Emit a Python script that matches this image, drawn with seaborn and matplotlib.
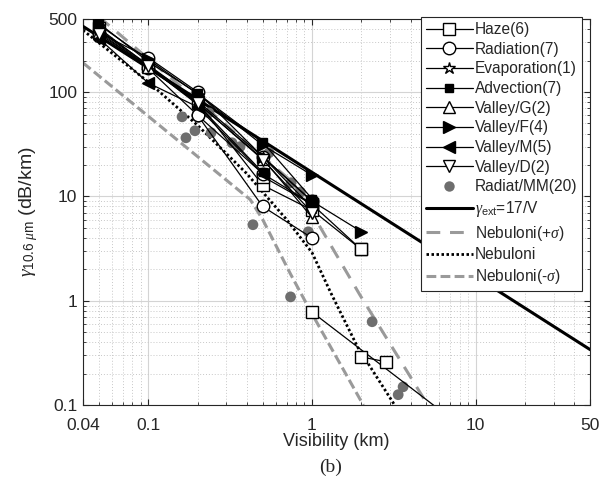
import numpy as np
import pandas as pd
import seaborn as sns
import matplotlib.pyplot as plt
from matplotlib.ticker import NullFormatter, FixedLocator, LogLocator

sns.set_style('ticks')
plt.rcParams['font.family'] = ['Liberation Sans', 'DejaVu Sans']
plt.rcParams['mathtext.fontset'] = 'custom'
plt.rcParams['mathtext.rm'] = 'Liberation Sans'
plt.rcParams['mathtext.it'] = 'Liberation Serif:italic'

# ---- measured series (visibility km, attenuation dB/km) ----
haze_a_x = [0.05, 0.1, 0.2, 0.5, 1, 2]
haze_a_y = [410, 178, 80, 12.8, 7.4, 3.1]
haze_b_x = [0.5, 1, 2]
haze_b_y = [15.5, 8.4, 3.1]
haze_c_x = [1, 10]
haze_c_y = [0.78, 0.049]
haze_d_x = [2, 2.85]
haze_d_y = [0.29, 0.26]

rad_a_x = [0.05, 0.1, 0.2, 0.5, 1]
rad_a_y = [370, 213, 100, 24, 9]
rad_b_x = [0.05, 0.1, 0.2, 0.5]
rad_b_y = [345, 168, 60, 16.5]
rad_c_x = [0.2, 0.5, 1]
rad_c_y = [60, 8, 4]

evap_x = [0.05, 0.1, 0.2, 0.5, 1]
evap_y = [395, 182, 82, 24, 7.8]

adv_a_x = [0.05, 0.1, 0.2, 0.5, 1]
adv_a_y = [455, 195, 97, 33, 9.5]
adv_b_x = [0.05, 0.1, 0.2, 0.5]
adv_b_y = [390, 175, 76, 17]

vg_x = [0.05, 0.1, 0.2, 0.5, 1]
vg_y = [375, 172, 78, 23, 6.3]

vf_a_x = [0.05, 0.1, 0.2, 0.5, 1]
vf_a_y = [440, 205, 96, 31, 16]
vf_b_x = [0.5, 1, 2]
vf_b_y = [24, 9, 4.6]

vm_x = [0.05, 0.1, 0.2, 0.5, 1]
vm_y = [325, 122, 72, 16.5, 8.5]

vd_x = [0.05, 0.1, 0.2, 0.5, 1]
vd_y = [360, 176, 79, 22.5, 7]

mm_x = [0.161, 0.170, 0.193, 0.235, 0.242, 0.325, 0.364, 0.547, 0.745, 0.85,
        0.436, 0.95, 1.0, 0.74, 2.33, 3.6, 3.36]
mm_y = [57.8, 36.4, 42.5, 63, 40.7, 32.6, 29.9, 26.2, 13.5, 11,
        5.35, 4.58, 7.1, 1.09, 0.63, 0.15, 0.126]

ext_x = [0.04, 50]
ext_y = [425, 0.34]

neb_plus_x = [0.05, 0.275, 0.62, 0.767, 1.12, 1.96, 5.1]
neb_plus_y = [525, 54, 18, 13.5, 5.1, 1.14, 0.1]
neb_x = [0.04, 0.1, 0.2, 0.4, 0.5, 0.7, 1, 1.3, 1.9, 3.2]
neb_y = [390, 125, 48, 16.5, 11, 6, 2.9, 1.2, 0.36, 0.1]
neb_minus_x = [0.04, 0.42, 0.5, 0.74, 1, 2.06]
neb_minus_y = [190, 9.3, 6.0, 1.8, 0.75, 0.1]

fig = plt.figure(figsize=(6.06, 4.87), dpi=100)
ax = fig.add_axes([0.137, 0.168, 0.837, 0.793])
ax.set_xscale('log')
ax.set_yscale('log')

handles = {}


def exp_line(xs, ys, marker, name, ms=8, mfc='white'):
    sns.lineplot(x=xs, y=ys, ax=ax, color='k', lw=0.9, marker=marker,
                 markersize=ms, markerfacecolor=mfc, markeredgecolor='k',
                 markeredgewidth=1.0, sort=False, estimator=None, zorder=4)
    if name not in handles:
        handles[name] = ax.lines[-1]


# model curves first (behind)
sns.lineplot(x=ext_x, y=ext_y, ax=ax, color='k', lw=2.2, sort=False, estimator=None, zorder=3)
handles['ext'] = ax.lines[-1]
sns.lineplot(x=neb_plus_x, y=neb_plus_y, ax=ax, color='#9a9a9a', lw=2.2,
             sort=False, estimator=None, zorder=2)
ax.lines[-1].set_dashes((4.5, 3.2))
handles['plus'] = ax.lines[-1]
sns.lineplot(x=neb_x, y=neb_y, ax=ax, color='k', lw=2.0, sort=False, estimator=None, zorder=2)
ax.lines[-1].set_dashes((0.9, 0.9))
handles['neb'] = ax.lines[-1]
sns.lineplot(x=neb_minus_x, y=neb_minus_y, ax=ax, color='#9a9a9a', lw=2.2,
             sort=False, estimator=None, zorder=2)
ax.lines[-1].set_dashes((3.2, 1.4))
handles['minus'] = ax.lines[-1]

sns.scatterplot(x=mm_x, y=mm_y, ax=ax, color='#6e6e6e', s=60, edgecolor='none', zorder=3)
mm_handle = plt.Line2D([], [], ls='none', marker='o', ms=7.5, color='#6e6e6e', mec='none')

exp_line(haze_a_x, haze_a_y, 's', 'haze')
exp_line(haze_b_x, haze_b_y, 's', 'haze')
exp_line(haze_c_x, haze_c_y, 's', 'haze')
exp_line(haze_d_x, haze_d_y, 's', 'haze')
exp_line(rad_a_x, rad_a_y, 'o', 'rad', ms=9)
exp_line(rad_b_x, rad_b_y, 'o', 'rad', ms=9)
exp_line(rad_c_x, rad_c_y, 'o', 'rad', ms=9)
exp_line(evap_x, evap_y, '*', 'evap', ms=9)
exp_line(adv_a_x, adv_a_y, 's', 'adv', ms=6, mfc='k')
exp_line(adv_b_x, adv_b_y, 's', 'adv', ms=6, mfc='k')
exp_line(vg_x, vg_y, '^', 'vg')
exp_line(vf_a_x, vf_a_y, '>', 'vf', mfc='k')
exp_line(vf_b_x, vf_b_y, '>', 'vf', mfc='k')
exp_line(vm_x, vm_y, '<', 'vm', mfc='k')
exp_line(vd_x, vd_y, 'v', 'vd')

ax.set_xlim(0.04, 50)
ax.set_ylim(0.1, 500)

ax.xaxis.set_major_locator(FixedLocator([0.04, 0.1, 1, 10, 50]))
ax.set_xticklabels(['0.04', '0.1', '1', '10', '50'])
ax.yaxis.set_major_locator(FixedLocator([0.1, 1, 10, 100, 500]))
ax.set_yticklabels(['0.1', '1', '10', '100', '500'])
for axis in (ax.xaxis, ax.yaxis):
    axis.set_minor_locator(LogLocator(base=10, subs=np.arange(2, 10), numticks=20))
    axis.set_minor_formatter(NullFormatter())

ax.grid(which='major', color='#d4d4d4', lw=0.8, ls='-', zorder=0)
ax.grid(which='minor', color='#c8c8c8', lw=0.7, ls=(0, (1, 2)), zorder=0)
ax.set_axisbelow(True)
ax.tick_params(which='both', direction='in', top=True, right=True, labelsize=12.5)
ax.tick_params(axis='x', which='major', pad=9)
ax.tick_params(axis='y', which='major', pad=4)
ax.tick_params(which='major', length=4)
ax.tick_params(which='minor', length=2)
for s in ax.spines.values():
    s.set_linewidth(0.8)
    s.set_color('#262626')

ax.set_xlabel('Visibility (km)', fontsize=13, labelpad=0)
ax.set_ylabel(r'$\gamma_{10.6\ \mu\mathrm{m}}$ (dB/km)', fontsize=14, labelpad=6)
fig.text(0.545, 0.03, '(b)', family='Liberation Serif', fontsize=14, ha='center')

leg_handles = [handles['haze'], handles['rad'], handles['evap'], handles['adv'],
               handles['vg'], handles['vf'], handles['vm'], handles['vd'], mm_handle,
               handles['ext'], handles['plus'], handles['neb'], handles['minus']]
leg_labels = ['Haze(6)', 'Radiation(7)', 'Evaporation(1)', 'Advection(7)', 'Valley/G(2)',
              'Valley/F(4)', 'Valley/M(5)', 'Valley/D(2)', 'Radiat/MM(20)',
              r'$\gamma_{\mathrm{ext}}$=17/V', r'Nebuloni(+$\sigma$)', 'Nebuloni',
              r'Nebuloni(-$\sigma$)']
leg = ax.legend(leg_handles, leg_labels, loc='upper right', bbox_to_anchor=(0.984, 1.004),
                fontsize=11.2, frameon=True, fancybox=False, edgecolor='#262626',
                framealpha=1, handlelength=3.0, handletextpad=0.15, labelspacing=0.3,
                borderpad=0.3, borderaxespad=0.0)
leg.get_frame().set_linewidth(0.8)
leg.set_zorder(10)

fig.savefig('out.png', dpi=100)
